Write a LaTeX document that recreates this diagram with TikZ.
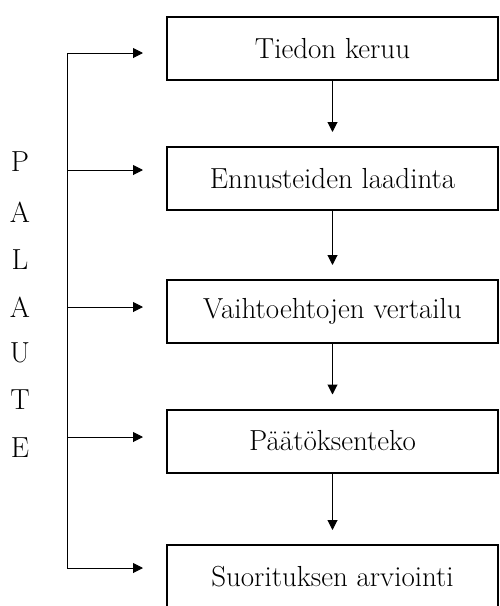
\documentclass[tikz,border=0pt]{standalone}
\usepackage{fontspec}
\usepackage{tikz}
\usetikzlibrary{arrows.meta}

\begin{document}
\begin{tikzpicture}[x=1pt, y=1pt, line width=1pt, >={Triangle[length=10pt,width=10pt]},
    every node/.style={font=\fontsize{29}{33}\selectfont},
    box/.style={draw, line width=2pt, minimum width=331pt, minimum height=63pt, inner sep=0pt}]
    \useasboundingbox (0,0) rectangle (499,-606);

    \node[box] (1) at (332.5,-48.5) {Tiedon keruu};
    \node[box] (2) at (332.5,-178.5) {Ennusteiden laadinta};
    \node[box] (3) at (332.5,-311.5) {Vaihtoehtojen vertailu};
    \node[box] (4) at (332.5,-441) {Päätöksenteko};
    \node[box] (5) at (332.5,-576.5) {Suorituksen arviointi};

    \draw[->, shorten >=14pt] (1) -- (2);
    \draw[->, shorten >=14pt] (2) -- (3);
    \draw[->, shorten >=14pt] (3) -- (4);
    \draw[->, shorten >=14pt] (4) -- (5);

    % palaute
    \coordinate (f1) at (67,-53);
    \coordinate (f2) at (67,-170);
    \coordinate (f3) at (67,-307);
    \coordinate (f4) at (67,-437);
    \coordinate (f5) at (67,-568);
    \draw (f1) -- (f5);
    \draw[->, shorten >=23pt] (f1) -- (f1 -| 1.west);
    \draw[->, shorten >=23pt] (f2) -- (f2 -| 2.west);
    \draw[->, shorten >=23pt] (f3) -- (f3 -| 3.west);
    \draw[->, shorten >=23pt] (f4) -- (f4 -| 4.west);
    \draw[->, shorten >=23pt] (f5) -- (f5 -| 5.west);

    \node (P) at (20,-162) {P};
    \node (A1) at (20,-212) {A};
    \node (L) at (20,-260) {L};
    \node (A2) at (20,-307) {A};
    \node (U) at (20,-353) {U};
    \node (T) at (20,-400) {T};
    \node (E) at (20,-448) {E};
\end{tikzpicture}
\end{document}
